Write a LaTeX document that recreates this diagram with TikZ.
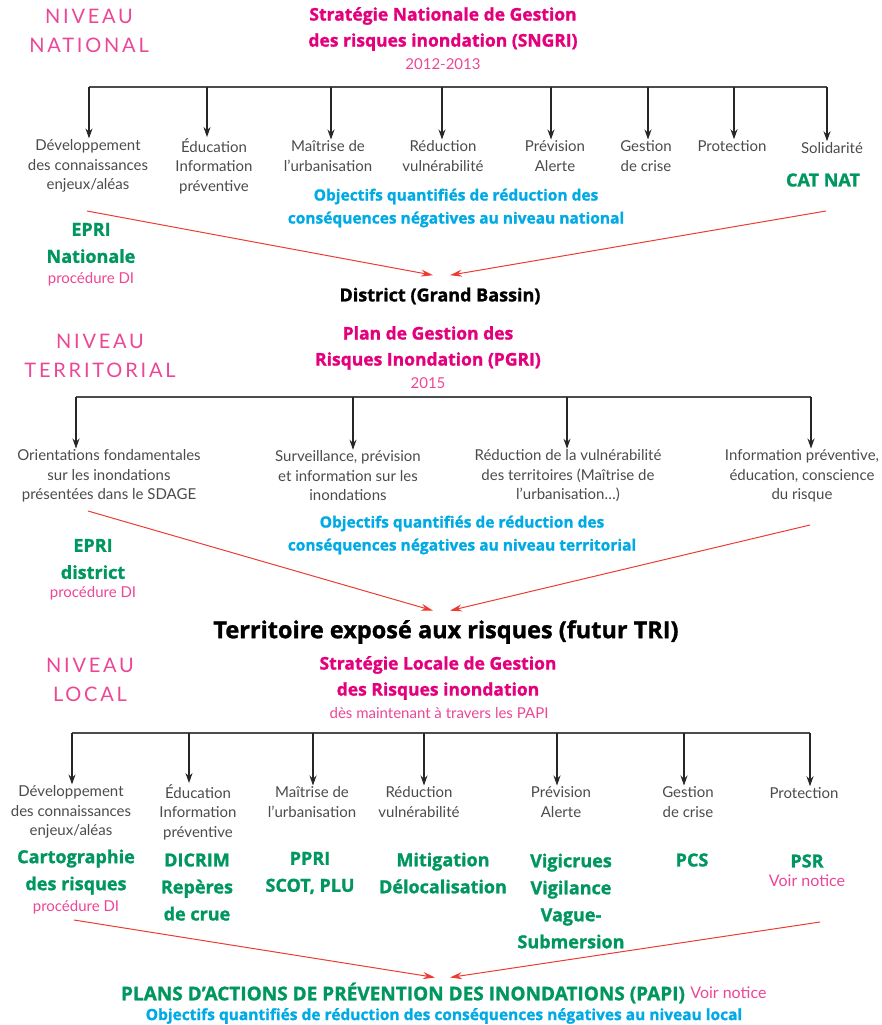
\documentclass[tikz,border=0pt]{standalone}
\usepackage{fontspec}
\setmainfont{Lato}
\newfontfamily\nivfont[LetterSpace=14]{Lato}
\newfontfamily\grasfont[BoldFeatures={FakeBold=1.2}]{Open Sans}
\usetikzlibrary{arrows.meta, positioning, calc}
\definecolor{rosetitre}{RGB}{228,0,124}
\definecolor{rosepale}{RGB}{236,70,150}
\definecolor{vertfonce}{RGB}{0,150,95}
\definecolor{bleuclair}{RGB}{0,170,228}
\definecolor{rougevif}{RGB}{236,60,50}
\definecolor{grisfonce}{RGB}{75,75,75}
\tikzset{
  niveau/.style={text=rosepale, font=\nivfont\fontsize{20}{29}\selectfont, align=center},
  titre/.style={text=rosetitre, font=\grasfont\bfseries\fontsize{17.5}{26}\selectfont, align=center},
  annee/.style={text=rosepale, font=\fontsize{15}{16}\selectfont, inner sep=1pt},
  item/.style={text=grisfonce, font=\fontsize{15}{19.5}\selectfont, align=center, inner sep=1pt},
  outil/.style={text=vertfonce, font=\grasfont\bfseries\fontsize{18}{27}\selectfont, align=center, inner sep=1pt},
  objectif/.style={text=bleuclair, font=\grasfont\bfseries\fontsize{15.5}{23}\selectfont, align=center},
  echelon/.style={text=black, font=\grasfont\bfseries\fontsize{18}{22}\selectfont},
  barre/.style={black!70, line width=1.2pt},
  fleche/.style={-{Stealth[length=10pt,width=7pt]}, black!85, line width=1.1pt},
  flecherouge/.style={-{Stealth[length=12pt,width=7pt]}, rougevif, line width=1pt},
}
\begin{document}
\begin{tikzpicture}[x=1pt, y=-1pt]
  \useasboundingbox (0,0) rectangle (881,1025);

  % niveau national
  \node[niveau] (niv1) at (89,31) {NIVEAU\\NATIONAL};
  \node[titre] (sngri) at (443,29) {Stratégie Nationale de Gestion\\des risques inondation (SNGRI)};
  \node[annee] (an1) at (443,64) {2012-2013};

  \coordinate (a1) at (89,87);
  \coordinate (a2) at (207,87);
  \coordinate (a3) at (331,87);
  \coordinate (a4) at (442,87);
  \coordinate (a5) at (551,87);
  \coordinate (a6) at (648,87);
  \coordinate (a7) at (734,87);
  \coordinate (a8) at (827,87);
  \draw[barre] (a1) -- (a8);

  \node[item] (n1) at (88,166) {Développement\\des connaissances\\enjeux/aléas};
  \node[item] (n2) at (214,166) {Éducation\\Information\\préventive};
  \node[item] (n3) at (328,156) {Maîtrise de\\l’urbanisation};
  \node[item] (n4) at (443,156) {Réduction\\vulnérabilité};
  \node[item] (n5) at (555,156) {Prévision\\Alerte};
  \node[item] (n6) at (646,156) {Gestion\\de crise};
  \node[item] (n7) at (732,146) {Protection};
  \node[item] (n8) at (832,148) {Solidarité};

  \draw[fleche] (a1) -- (a1 |- n1.north);
  \draw[fleche] (a2) -- (a2 |- n2.north);
  \draw[fleche] (a3) -- (a3 |- n3.north);
  \draw[fleche] (a4) -- (a4 |- n4.north);
  \draw[fleche] (a5) -- (a5 |- n5.north);
  \draw[fleche] (a6) -- (a6 |- n6.north);
  \draw[fleche] (a7) -- (a7 |- n7.north);
  \draw[fleche] (a8) -- (a8 |- n8.north);

  \node[outil] (catnat) at (823,180) {CAT NAT};
  \node[objectif] (obj1) at (456,208) {Objectifs quantifiés de réduction des\\conséquences négatives au niveau national};
  \node[outil] (epri1) at (91,243) {EPRI\\Nationale};
  \node[annee, below=7pt of epri1] (proc1) {procédure DI};
  \node[echelon] (district) at (440,296) {District (Grand Bassin)};

  \coordinate (r1) at (87,211);
  \coordinate (r2) at (826,211);
  \draw[flecherouge] (r1) -- ($(district.north)+(-7,-9)$);
  \draw[flecherouge] (r2) -- ($(district.north)+(10,-9)$);

  % niveau territorial
  \node[niveau] (niv2) at (100,356) {NIVEAU\\TERRITORIAL};
  \node[titre] (pgri) at (428,348) {Plan de Gestion des\\Risques Inondation (PGRI)};
  \node[annee] (an2) at (428,383) {2015};

  \coordinate (b1) at (76,397);
  \coordinate (b2) at (353,397);
  \coordinate (b3) at (567,397);
  \coordinate (b4) at (811,397);
  \draw[barre] (b1) -- (b4);

  \node[item] (t1) at (109,476) {Orientations fondamentales\\sur les inondations\\présentées dans le SDAGE};
  \node[item] (t2) at (348,476) {Surveillance, prévision\\et information sur les\\inondations};
  \node[item] (t3) at (568,476) {Réduction de la vulnérabilité\\des territoires (Maîtrise de\\l’urbanisation…)};
  \node[item] (t4) at (802,476) {Information préventive,\\éducation, conscience\\du risque};

  \draw[fleche] (b1) -- (b1 |- t1.north);
  \draw[fleche] (b2) -- (b2 |- t2.north);
  \draw[fleche] (b3) -- (b3 |- t3.north);
  \draw[fleche] (b4) -- (b4 |- t4.north);

  \node[objectif] (obj2) at (462,535) {Objectifs quantifiés de réduction des\\conséquences négatives au niveau territorial};
  \node[outil] (epri2) at (93,559) {EPRI\\district};
  \node[annee, below=5pt of epri2] (proc2) {procédure DI};
  \node[echelon, font=\grasfont\bfseries\fontsize{23.5}{26}\selectfont] (tri) at (446,632) {Territoire exposé aux risques (futur TRI)};

  \coordinate (r3) at (88,511);
  \coordinate (r4) at (810,525);
  \draw[flecherouge] (r3) -- ($(tri.north)+(-13,-6)$);
  \draw[flecherouge] (r4) -- ($(tri.north)+(4,-6)$);

  % niveau local
  \node[niveau] (niv3) at (90,680) {NIVEAU\\LOCAL};
  \node[titre] (slgri) at (438,678) {Stratégie Locale de Gestion\\des Risques inondation};
  \node[annee] (an3) at (439,713) {dès maintenant à travers les PAPI};

  \coordinate (c1) at (72,733);
  \coordinate (c2) at (189,733);
  \coordinate (c3) at (313,733);
  \coordinate (c4) at (424,733);
  \coordinate (c5) at (557,733);
  \coordinate (c6) at (684,733);
  \coordinate (c7) at (810,733);
  \draw[barre] (c1) -- (c7);

  \node[item] (l1) at (71,812) {Développement\\des connaissances\\enjeux/aléas};
  \node[item] (l2) at (198,812) {Éducation\\Information\\préventive};
  \node[item] (l3) at (312,802) {Maîtrise de\\l’urbanisation};
  \node[item] (l4) at (419,802) {Réduction\\vulnérabilité};
  \node[item] (l5) at (561,802) {Prévision\\Alerte};
  \node[item] (l6) at (688,802) {Gestion\\de crise};
  \node[item] (l7) at (804,793) {Protection};

  \draw[fleche] (c1) -- (c1 |- l1.north);
  \draw[fleche] (c2) -- (c2 |- l2.north);
  \draw[fleche] (c3) -- (c3 |- l3.north);
  \draw[fleche] (c4) -- (c4 |- l4.north);
  \draw[fleche] (c5) -- (c5 |- l5.north);
  \draw[fleche] (c6) -- (c6 |- l6.north);
  \draw[fleche] (c7) -- (c7 |- l7.north);

  \node[outil] (o1) at (76,872) {Cartographie\\des risques};
  \node[annee, below=4pt of o1] (proc3) {procédure DI};
  \node[outil] (o2) at (197,887) {DICRIM\\Repères\\de crue};
  \node[outil] (o3) at (310,873) {PPRI\\SCOT, PLU};
  \node[outil] (o4) at (443,873) {Mitigation\\Délocalisation};
  \node[outil] (o5) at (571,901) {Vigicrues\\Vigilance\\Vague-\\Submersion};
  \node[outil] (o6) at (692,860) {PCS};
  \node[outil] (o7) at (807,861) {PSR};
  \node[annee, font=\fontsize{16}{17}\selectfont, below=5pt of o7] (voir1) {Voir notice};

  \node[outil, font=\grasfont\bfseries\fontsize{19}{20}\selectfont] (papi) at (403,993) {PLANS D’ACTIONS DE PRÉVENTION DES INONDATIONS (PAPI)};
  \node[annee, font=\fontsize{16}{17}\selectfont, right=3pt of papi] (voir2) {Voir notice};
  \node[objectif] (obj3) at (444,1016) {Objectifs quantifiés de réduction des conséquences négatives au niveau local};

  \coordinate (r5) at (74,920);
  \coordinate (r6) at (820,922);
  \draw[flecherouge] (r5) -- ($(papi.north)+(32,-4)$);
  \draw[flecherouge] (r6) -- ($(papi.north)+(47,-4)$);
\end{tikzpicture}
\end{document}
